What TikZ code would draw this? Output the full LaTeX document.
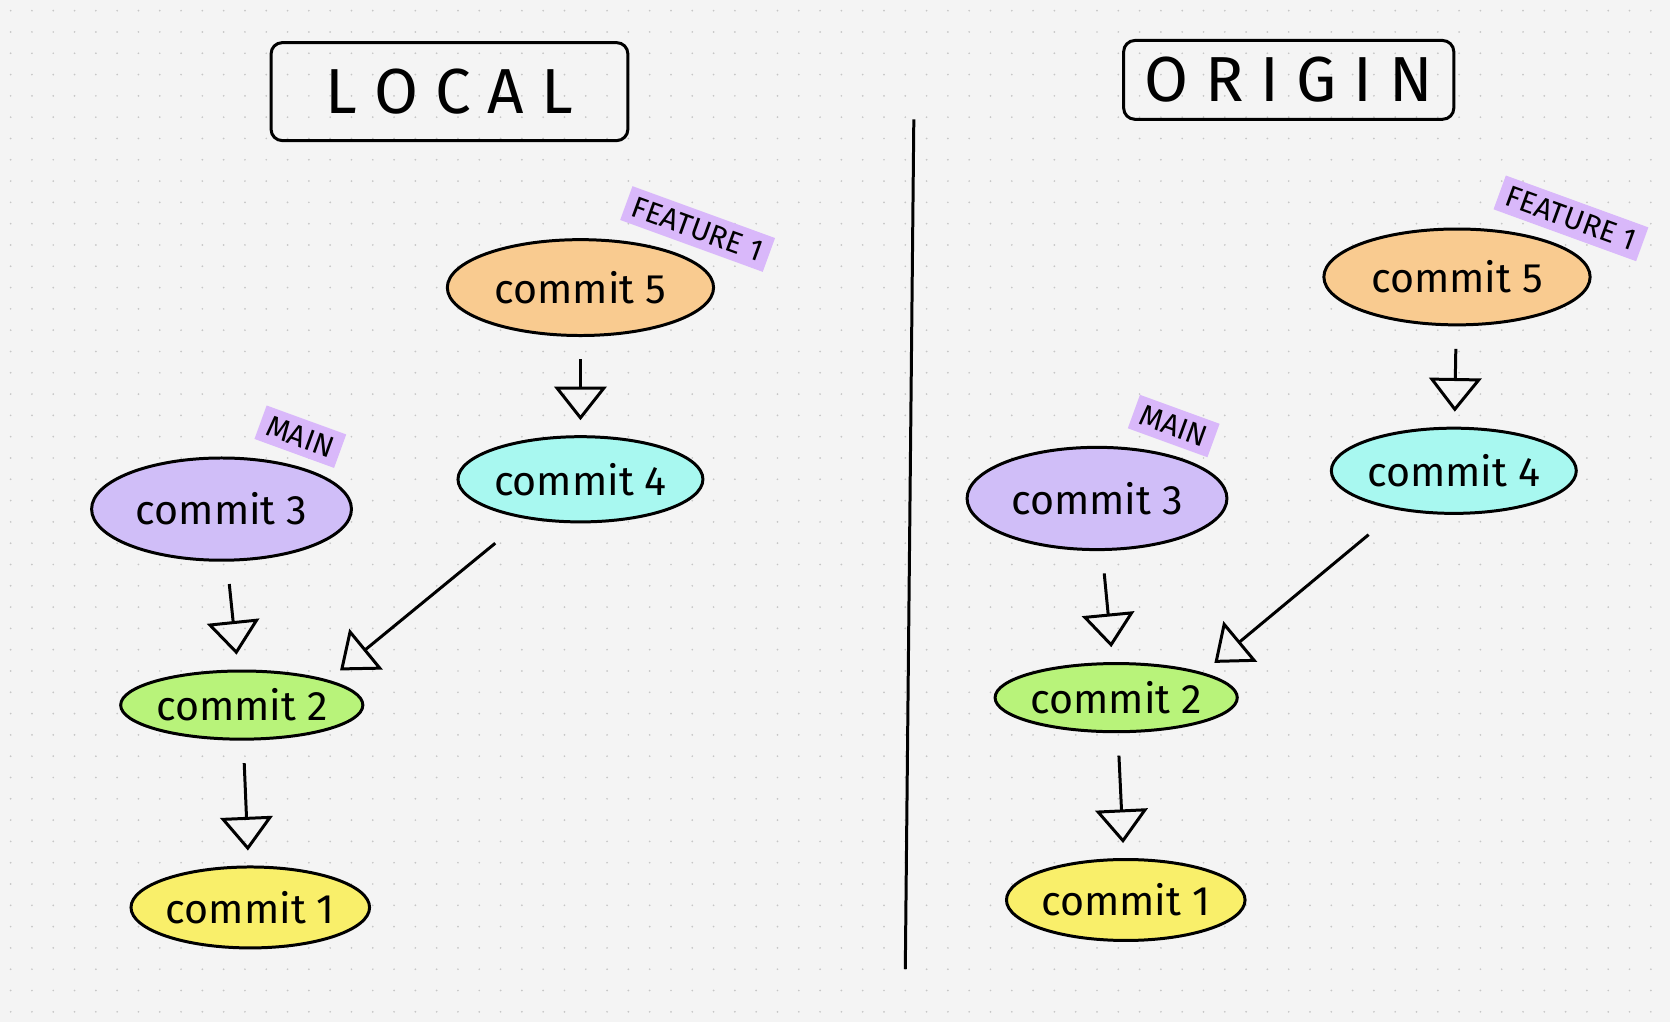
\documentclass[tikz,border=0pt]{standalone}
\usepackage{fontspec}
\setmainfont{Fira Sans}
\usetikzlibrary{arrows.meta,shapes.geometric}
\definecolor{bgpaper}{HTML}{F4F4F4}
\definecolor{cfive}{HTML}{F9CB90}
\definecolor{cfour}{HTML}{A8F8F0}
\definecolor{cthree}{HTML}{D0BEF8}
\definecolor{ctwo}{HTML}{B8F37A}
\definecolor{cone}{HTML}{F9EF6A}
\definecolor{ctag}{HTML}{D9B8FA}
\tikzset{
  commit/.style={ellipse, draw=black, thick, inner sep=0pt, font=\fontsize{11}{13}\selectfont},
  tag/.style={fill=ctag, rotate=-20, inner sep=2pt, font=\fontsize{8}{10}\selectfont},
  title/.style={draw=black, thick, rounded corners=3pt, font=\fontsize{17}{20}\selectfont, inner sep=0pt},
  link/.style={-{Triangle[open,length=9pt,width=14pt]}, thick, shorten >=4pt, shorten <=6pt}
}
\begin{document}
\begin{tikzpicture}
    % paper
    \fill[bgpaper] (0,0) rectangle (15.68,-9.60);
    \useasboundingbox (0,0) rectangle (15.68,-9.60);
    \foreach \i in {0,...,78}
      \foreach \j in {0,...,48}
        \fill[gray!45] (0.1+0.2*\i,-0.1-0.2*\j) circle (0.009);
    % titles
    \node[title, minimum width=3.35cm, minimum height=0.92cm] (loc) at (4.22,-0.86) {L O C A L};
    \node[title, minimum width=3.1cm, minimum height=0.74cm] (ori) at (12.10,-0.75) {O R I G I N};
    \draw[thick] (8.58,-1.12) -- (8.50,-9.10);
    % local
    \node[commit, fill=cfive, minimum width=2.5cm, minimum height=0.9cm] (l5) at (5.45,-2.70) {commit 5};
    \node[commit, fill=cfour, minimum width=2.3cm, minimum height=0.8cm] (l4) at (5.45,-4.50) {commit 4};
    \node[commit, fill=cthree, minimum width=2.44cm, minimum height=0.96cm] (l3) at (2.08,-4.78) {commit 3};
    \node[commit, fill=ctwo, minimum width=2.04cm, minimum height=0.64cm] (l2) at (2.27,-6.62) {commit 2};
    \node[commit, fill=cone, minimum width=1.76cm, minimum height=0.76cm] (l1) at (2.35,-8.52) {commit 1};
    \node[tag] (lf) at (6.55,-2.15) {FEATURE 1};
    \node[tag] (lm) at (2.82,-4.10) {MAIN};
    \coordinate (l4a) at (4.65,-5.10);
    \draw[link] (l5) -- (l4);
    \draw[link] (l3) -- (l2);
    \draw[link] (l2) -- (l1);
    \draw[link, shorten <=0pt] (l4a) -- (l2.north east);
    % origin
    \node[commit, fill=cfive, minimum width=2.5cm, minimum height=0.9cm] (o5) at (13.68,-2.60) {commit 5};
    \node[commit, fill=cfour, minimum width=2.3cm, minimum height=0.8cm] (o4) at (13.65,-4.42) {commit 4};
    \node[commit, fill=cthree, minimum width=2.44cm, minimum height=0.96cm] (o3) at (10.30,-4.68) {commit 3};
    \node[commit, fill=ctwo, minimum width=2.04cm, minimum height=0.64cm] (o2) at (10.48,-6.55) {commit 2};
    \node[commit, fill=cone, minimum width=1.76cm, minimum height=0.76cm] (o1) at (10.57,-8.45) {commit 1};
    \node[tag] (of) at (14.75,-2.05) {FEATURE 1};
    \node[tag] (om) at (11.02,-4.00) {MAIN};
    \coordinate (o4a) at (12.85,-5.02);
    \draw[link] (o5) -- (o4);
    \draw[link] (o3) -- (o2);
    \draw[link] (o2) -- (o1);
    \draw[link, shorten <=0pt] (o4a) -- (o2.north east);
\end{tikzpicture}
\end{document}
